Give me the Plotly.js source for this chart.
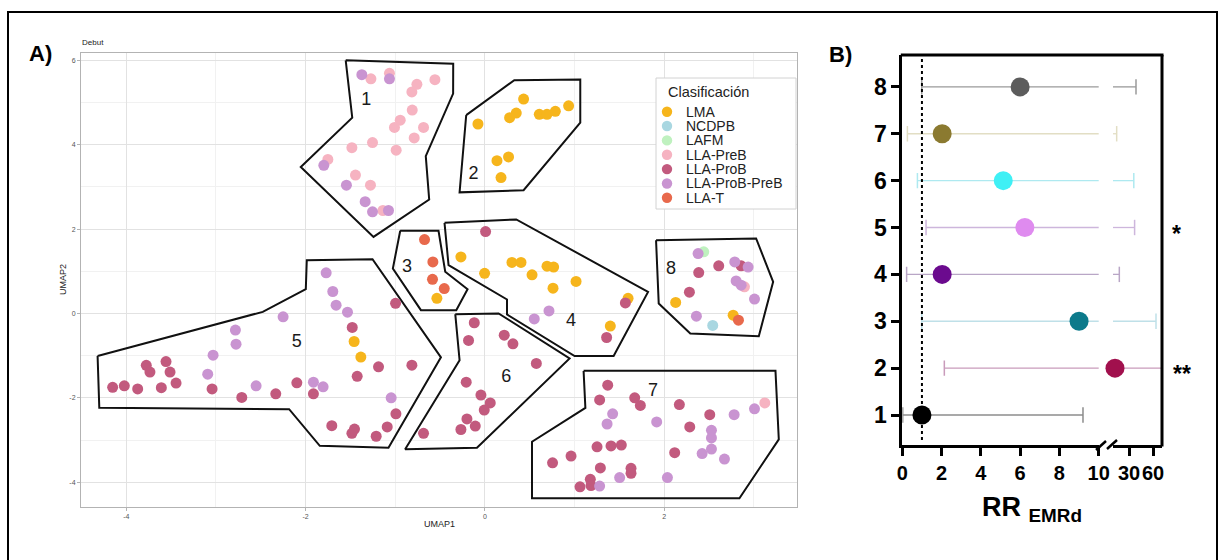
<!DOCTYPE html>
<html>
<head>
<meta charset="utf-8">
<script src="https://cdn.plot.ly/plotly-3.0.1.min.js"></script>
<style>html,body{margin:0;padding:0;background:#fff}#chart{width:1225px;height:560px}</style>
</head>
<body>
<div id="chart"></div>
<script>
// ---------- Panel A data (UMAP coordinates by classification) ----------
const categories = ['LMA','NCDPB','LAFM','LLA-PreB','LLA-ProB','LLA-ProB-PreB','LLA-T'];
const catColors  = ['#f6b51c','#a9d7e1','#bff1bf','#f6b3c1','#c25a7e','#c994d1','#e8694c'];

const lma_x = [0.431,0.349,0.275,0.606,0.692,0.785,0.933,-0.078,0.134,0.263,0.179,
  -0.536,
  -0.268,-0.004,0.301,0.402,0.525,0.692,0.766,0.759,1.016,1.596,1.398,
  -1.459,-1.384, 2.127,2.768];
const lma_y = [5.08,4.75,4.64,4.72,4.72,4.79,4.92,4.49,3.62,3.71,3.22,
  0.36,
  1.34,0.95,1.21,1.21,0.915,1.12,1.10,0.60,0.76,0.36,-0.30,
  -0.665,-1.035, 0.26,-0.04];
const ncdpb_x = [2.54];
const ncdpb_y = [-0.285];
const lafm_x = [2.44];
const lafm_y = [1.46];
const preb_x = [-1.272,-1.065,-0.759,-0.815,-0.558,-0.811,-0.945,-1.009,-0.685,-0.789,-1.254,-1.484,-0.99,-1.752,-1.444,-1.277,-1.138, 3.121, 2.894];
const preb_y = [5.56,5.69,5.43,5.25,5.54,4.82,4.58,4.41,4.41,4.16,4.05,3.93,3.87,3.65,3.28,3.04,2.44, -2.12, 0.63];
const prob_x = [0.007,1.566,1.357,
  -1.48,-0.997,-1.187,-0.815,-1.425,-3.043,-3.777,-3.736,-3.557,-3.512,-3.445,-4.152,-4.022,-3.873,-3.609,-2.712,-2.333,-2.098,-1.913,-0.993,-1.09,-1.213,-1.708,-1.484,-1.455,
  -0.119,-0.183,0.215,0.312,0.573,-0.209,-0.045,0.059,-0.008,-0.201,-0.108,-0.268,-0.685,
  1.369,1.279,1.67,1.733,2.168,2.507,2.284,2.116,1.25,1.406,1.521,0.96,0.754,1.287,1.629,1.629,1.175,1.183,1.06,
  2.384,2.607,2.857,2.28];
const prob_y = [1.94,0.25,-0.57,
  -0.33,0.24,-1.265,-1.225,-1.49,-1.79,-1.23,-1.39,-1.14,-1.39,-1.65,-1.75,-1.715,-1.79,-1.76,-1.99,-1.905,-1.645,-1.905,-2.38,-2.69,-2.91,-2.66,-2.84,-2.74,
  -0.22,-0.64,-0.515,-0.72,-1.185,-1.63,-1.935,-2.12,-2.29,-2.50,-2.67,-2.75,-2.84,
  -1.70,-2.05,-2.0,-2.18,-2.16,-2.40,-2.69,-3.30,-3.16,-3.14,-3.12,-3.38,-3.54,-3.66,-3.67,-3.79,-3.93,-4.08,-4.11,
  0.97,1.13,1.13,0.505];
const probpreb_x = [-1.373,-1.065,-1.797,-1.545,-1.336,-1.254,-1.076,
  0.714,0.55,
  -1.771,-1.697,-1.66,-1.533,-2.251,-2.783,-2.776,-3.032,-3.092,-2.552,-1.913,-1.805,-1.046,
  1.424,1.362,1.915,2.779,3.006,2.526,2.526,2.526,2.422,2.671,1.502,2.035,1.279,
  2.377,2.786,2.935,2.801,2.857,3.006,2.358];
const probpreb_y = [5.66,5.56,3.51,3.04,2.65,2.41,2.44,
  0.06,-0.13,
  0.962,0.52,0.197,0.03,-0.08,-0.395,-0.727,-0.99,-1.44,-1.715,-1.63,-1.74,-2.0,
  -2.38,-2.62,-2.57,-2.40,-2.26,-2.77,-2.95,-3.215,-3.32,-3.45,-3.89,-3.89,-4.09,
  1.42,1.22,1.10,0.77,0.67,0.34,-0.064];
const llat_x = [-0.674,-0.581,-0.585,-0.454,2.827];
const llat_y = [1.75,1.22,0.81,0.59,-0.16];

const catX = [lma_x, ncdpb_x, lafm_x, preb_x, prob_x, probpreb_x, llat_x];
const catY = [lma_y, ncdpb_y, lafm_y, preb_y, prob_y, probpreb_y, llat_y];

// cluster outlines (hand-drawn polygons) and their labels
const clusterNames = ['1','2','3','4','5','6','7','8'];
const poly1_x = [-1.553,-0.354,-0.355,-0.66,-0.622,-1.243,-2.054,-1.48];
const poly1_y = [6.00,5.92,5.21,3.73,2.70,1.815,3.47,4.64];
const poly2_x = [-0.209,0.327,1.063,1.063,0.431,-0.283];
const poly2_y = [4.70,5.53,5.545,4.52,2.92,2.87];
const poly3_x = [-0.945,-0.518,-0.443,-0.194,-0.32,-0.714,-1.027];
const poly3_y = [1.96,1.96,0.99,0.576,0.078,0.078,1.066];
const poly4_x = [-0.451,0.349,1.819,1.435,1.0,0.246,0.246,-0.406];
const poly4_y = [2.147,2.228,0.512,-1.01,-1.01,-0.024,0.332,1.145];
const poly5_x = [-4.32,-2.478,-1.998,-1.987,-1.254,-0.491,-1.076,-1.842,-2.184,-4.301];
const poly5_y = [-1.01,0.038,0.576,1.263,1.287,-1.04,-3.185,-3.137,-2.268,-2.237];
const poly6_x = [-0.331,0.152,0.944,-0.089,-0.89,-0.283];
const poly6_y = [-0.017,0.0,-1.066,-3.185,-3.22,-1.107];
const poly7_x = [1.1,3.24,3.277,2.838,0.525,0.525,1.12];
const poly7_y = [-1.36,-1.36,-2.985,-4.38,-4.38,-3.04,-2.24];
const poly8_x = [1.908,3.024,3.214,3.054,2.29,1.938];
const poly8_y = [1.737,1.777,0.75,-0.538,-0.474,0.237];
const polysX = [poly1_x,poly2_x,poly3_x,poly4_x,poly5_x,poly6_x,poly7_x,poly8_x];
const polysY = [poly1_y,poly2_y,poly3_y,poly4_y,poly5_y,poly6_y,poly7_y,poly8_y];
const label_x = [-1.325,-0.127,-0.87,0.96,-2.098,0.238,1.875,2.076];
const label_y = [5.04,3.30,1.09,-0.2,-0.69,-1.52,-1.85,1.04];

const umapXTicks = [-4,-2,0,2];
const umapXTickText = ['-4','-2','0','2'];
const umapYTicks = [-4,-2,0,2,4,6];
const umapYTickText = ['-4','-2','0','2','4','6'];

// ---------- Panel B data (relative risk per cluster) ----------
const rrClusters = [1,2,3,4,5,6,7,8];
const rrEstimate = [1.0,12.5,9.0,2.03,6.24,5.14,2.03,6.0];
const rrLower    = [0.02,2.14,0.99,0.22,1.21,0.77,0.26,0.99];
const rrUpper    = [9.2,75,63.75,17.9,37,36,14.6,38.75];
const rrColors   = ['#000000','#a1104d','#0c7a8b','#6b0a8e','#df8bef','#3ff0f5','#8b7a30','#5c5c5c'];
const rrCIColors = ['#8c8c8c','#c99bbb','#bfe0e8','#b9a6c6','#cdb6dc','#aee9f0','#e2dec4','#9a9a9a'];
const rrSignif   = ['','**','','','*','','',''];
const rrXTicksA = [0,2,4,6,8,10];
const rrXTicksB = [30,60];

// ---------- helpers for page-pixel placement of decorations ----------
const W = 1225, H = 560;
const P = x => x / W;
const Q = y => 1 - y / H;

const traces = [];
// cluster outlines
polysX.forEach((px, i) => {
  traces.push({
    type: 'scatter', mode: 'lines', xaxis: 'x', yaxis: 'y',
    x: px.concat([px[0]]), y: polysY[i].concat([polysY[i][0]]),
    line: {color: '#111', width: 2}, hoverinfo: 'skip', showlegend: false
  });
});
// points
categories.forEach((c, i) => {
  traces.push({
    type: 'scatter', mode: 'markers', xaxis: 'x', yaxis: 'y', name: c,
    x: catX[i], y: catY[i],
    marker: {size: 11, color: catColors[i], line: {width: 0}},
    showlegend: false
  });
});
// cluster labels
traces.push({
  type: 'scatter', mode: 'text', xaxis: 'x', yaxis: 'y',
  x: label_x, y: label_y, text: clusterNames,
  textfont: {family: 'Liberation Sans, Arial', size: 18, color: '#1a1a1a'},
  hoverinfo: 'skip', showlegend: false, cliponaxis: false
});

// Panel B: CI lines on both broken-axis segments
rrClusters.forEach((c, i) => {
  ['x2','x3'].forEach(ax => {
    traces.push({
      type: 'scatter', mode: 'lines+markers', xaxis: ax, yaxis: 'y2',
      x: [rrLower[i], rrUpper[i]], y: [c, c],
      line: {color: rrCIColors[i], width: 1.3},
      marker: {symbol: 'line-ns', size: 11, line: {color: rrCIColors[i], width: 1.5}},
      hoverinfo: 'skip', showlegend: false
    });
  });
});
// Panel B: estimates (placed on the segment whose range contains them)
rrClusters.forEach((c, i) => {
  traces.push({
    type: 'scatter', mode: 'markers', xaxis: rrEstimate[i] <= 10 ? 'x2' : 'x3', yaxis: 'y2',
    x: [rrEstimate[i]], y: [c],
    marker: {size: 19, color: rrColors[i], line: {width: 0}},
    cliponaxis: false, showlegend: false
  });
});

const boldFont = {family: 'Liberation Sans, Arial', color: '#000', weight: 'bold'};
const annotations = [];
const shapes = [];

// figure labels and texts
annotations.push({xref:'paper', yref:'paper', x:P(40), y:Q(54), text:'A)', showarrow:false,
  font:Object.assign({}, boldFont, {size:22}), xanchor:'center', yanchor:'middle'});
annotations.push({xref:'paper', yref:'paper', x:P(840), y:Q(55), text:'B)', showarrow:false,
  font:Object.assign({}, boldFont, {size:22}), xanchor:'center', yanchor:'middle'});
annotations.push({xref:'paper', yref:'paper', x:P(80), y:Q(43), text:'Debut', showarrow:false,
  font:{family:'Liberation Sans, Arial', size:8, color:'#222'}, xanchor:'left', yanchor:'middle'});
annotations.push({xref:'paper', yref:'paper', x:P(439), y:Q(524), text:'UMAP1', showarrow:false,
  font:{family:'Liberation Sans, Arial', size:9, color:'#222'}, xanchor:'center', yanchor:'middle'});
annotations.push({xref:'paper', yref:'paper', x:P(63), y:Q(280), text:'UMAP2', showarrow:false, textangle:-90,
  font:{family:'Liberation Sans, Arial', size:9, color:'#222'}, xanchor:'center', yanchor:'middle'});
annotations.push({xref:'paper', yref:'paper', x:P(1032), y:Q(509), text:'RR <sub>EMRd</sub>', showarrow:false,
  font:Object.assign({}, boldFont, {size:27}), xanchor:'center', yanchor:'middle'});

// significance marks
rrClusters.forEach((c, i) => {
  if (rrSignif[i]) {
    annotations.push({xref:'paper', yref:'y2', x:P(rrSignif[i].length > 1 ? 1182 : 1176), y:c, yshift:-6,
      text:rrSignif[i], showarrow:false, font:Object.assign({}, boldFont, {size:23}),
      xanchor:'center', yanchor:'middle'});
  }
});

// manual legend for panel A
shapes.push({type:'rect', xref:'paper', yref:'paper', x0:P(656), x1:P(796), y0:Q(78), y1:Q(209),
  line:{color:'#d2d2d2', width:1}, fillcolor:'#ffffff', layer:'above'});
annotations.push({xref:'paper', yref:'paper', x:P(666), y:Q(92), text:'Clasificación', showarrow:false,
  font:{family:'Liberation Sans, Arial', size:14.5, color:'#222'}, xanchor:'left', yanchor:'middle'});
categories.forEach((c, i) => {
  const yc = 111.7 + i * 14.35;
  shapes.push({type:'circle', xref:'paper', yref:'paper', xsizemode:'pixel', ysizemode:'pixel',
    xanchor:P(667), yanchor:Q(yc), x0:-5.2, x1:5.2, y0:-5.2, y1:5.2,
    fillcolor:catColors[i], line:{width:0}, layer:'above'});
  annotations.push({xref:'paper', yref:'paper', x:P(684), y:Q(yc), text:c, showarrow:false,
    font:{family:'Liberation Sans, Arial', size:14, color:'#222'}, xanchor:'left', yanchor:'middle'});
});

// panel B frame (top, right) and axis break marks; reference line at RR=1
shapes.push({type:'line', xref:'paper', yref:'paper', x0:P(900.8), x1:P(1163.5), y0:Q(55), y1:Q(55), line:{color:'#000', width:3}});
shapes.push({type:'line', xref:'paper', yref:'paper', x0:P(1162), x1:P(1162), y0:Q(55), y1:Q(446.5), line:{color:'#000', width:3}});
shapes.push({type:'line', xref:'paper', yref:'paper', x0:P(1096), x1:P(1106), y0:Q(450), y1:Q(441), line:{color:'#000', width:2.5}});
shapes.push({type:'line', xref:'paper', yref:'paper', x0:P(1107), x1:P(1117), y0:Q(449), y1:Q(440), line:{color:'#000', width:2.5}});
shapes.push({type:'line', xref:'x2', yref:'paper', x0:1, x1:1, y0:Q(440), y1:Q(59), line:{color:'#000', width:2, dash:'dot'}});
// outer figure frame
shapes.push({type:'rect', xref:'paper', yref:'paper', x0:P(8), x1:P(1217), y0:Q(12), y1:Q(565), line:{color:'#000', width:2}});

const gridA = {
  showgrid:true, gridcolor:'#e2e2e2', gridwidth:1, zeroline:false,
  showline:true, mirror:true, linecolor:'#b3b3b3', linewidth:1,
  ticks:'outside', ticklen:3, tickcolor:'#b3b3b3', tickwidth:1, tickangle:0,
  tickfont:{family:'Liberation Sans, Arial', size:7, color:'#555'}, tickmode:'array'
};
const axisB = {
  showgrid:false, zeroline:false, showline:true, linecolor:'#000', linewidth:3,
  ticks:'outside', ticklen:8, tickwidth:3, tickcolor:'#000', tickmode:'array', tickangle:0
};

const layout = {
  width: W, height: H, margin:{l:0, r:0, t:0, b:0},
  paper_bgcolor:'#fff', plot_bgcolor:'rgba(0,0,0,0)', showlegend:false,
  xaxis: Object.assign({}, gridA, {domain:[P(81), P(797)], range:[-4.505, 3.48], anchor:'y',
    tickvals:umapXTicks, ticktext:umapXTickText,
    minor:{tickmode:'array', tickvals:[-3,-1,1,3], showgrid:true, gridcolor:'#f1f1f1', ticks:''}}),
  yaxis: Object.assign({}, gridA, {domain:[Q(506.7), Q(52.7)], range:[-4.58, 6.18], anchor:'x',
    tickvals:umapYTicks, ticktext:umapYTickText,
    minor:{tickmode:'array', tickvals:[-3,-1,1,3,5], showgrid:true, gridcolor:'#f1f1f1', ticks:''}}),
  xaxis2: Object.assign({}, axisB, {domain:[P(902.3), P(1098.7)], range:[0, 10], anchor:'y2',
    tickvals:rrXTicksA, tickfont:Object.assign({}, boldFont, {size:20})}),
  xaxis3: Object.assign({}, axisB, {domain:[P(1113), P(1162)], range:[10, 71.25], anchor:'y2',
    tickvals:rrXTicksB, tickfont:Object.assign({}, boldFont, {size:20})}),
  yaxis2: Object.assign({}, axisB, {domain:[Q(445), Q(55)], range:[0.36, 8.68], anchor:'x2',
    tickvals:rrClusters, tickfont:Object.assign({}, boldFont, {size:23})}),
  annotations: annotations,
  shapes: shapes
};

Plotly.newPlot('chart', traces, layout, {staticPlot:true, displayModeBar:false});
</script>
</body>
</html>
